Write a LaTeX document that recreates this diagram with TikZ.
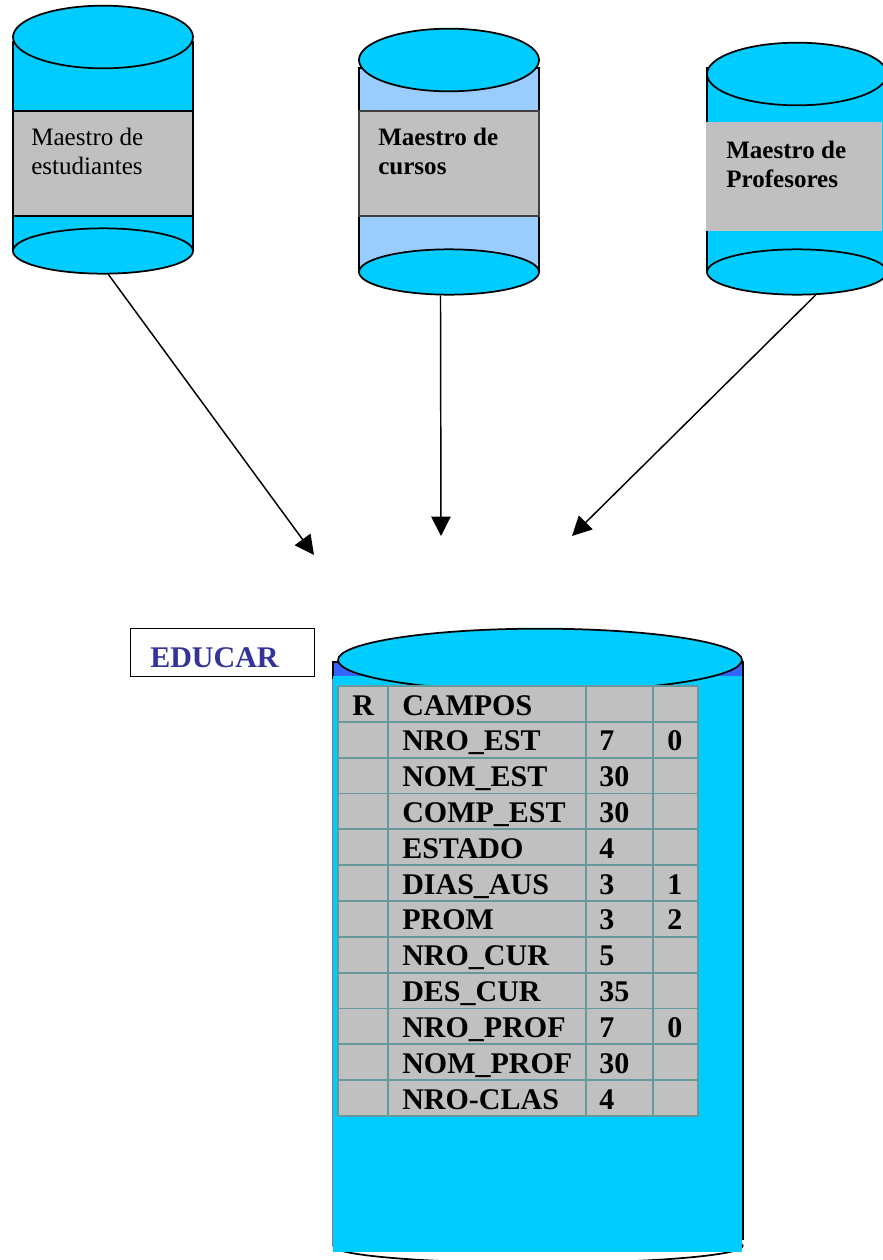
\documentclass[tikz,border=0pt]{standalone}
\usepackage{fontspec}
\setmainfont{Liberation Serif}
\usetikzlibrary{arrows.meta, shapes.geometric}
\definecolor{cian}{HTML}{00CCFF}
\definecolor{celeste}{HTML}{99CCFF}
\definecolor{azul}{HTML}{3366FF}
\definecolor{gris}{HTML}{C0C0C0}
\definecolor{borde}{HTML}{669999}
\definecolor{indigo}{HTML}{333399}
\tikzset{
	tapa/.style = {ellipse, draw = black, fill = cian, line width = 1.3pt, inner sep = 0pt},
	flecha/.style = {-{Triangle[length = 14.5pt, width = 14.5pt]}, line width = 1.1pt},
	rotulo/.style = {anchor = west, align = left, inner sep = 0pt, font = \fontsize{18.8}{21.75}\selectfont},
	celda/.style = {anchor = base west, inner sep = 0pt, font = \fontsize{22.5}{27}\selectfont\bfseries}
}
\begin{document}
\begin{tikzpicture}[x = 0.75pt, y = -0.75pt]
		\useasboundingbox (0, 0) rectangle (882, 1260);
		% estudiantes
			\draw[fill = cian, line width = 1.3pt] (13, 42) rectangle (193, 250);
			\draw[fill = gris, line width = 1.3pt] (13, 111) rectangle (193, 216);
			\node[tapa, minimum width = 135pt, minimum height = 47pt] (estTapa) at (103, 37) {};
			\node[tapa, minimum width = 135pt, minimum height = 34pt] (estBase) at (103, 251) {};
			\node[rotulo] (estRotulo) at (31, 151) {Maestro de\\estudiantes};
		% cursos
			\draw[fill = celeste, line width = 1.3pt] (359, 68) rectangle (539, 272);
			\draw[fill = gris, line width = 1.1pt, draw = black!75] (359, 111) rectangle (539, 216);
			\node[tapa, minimum width = 135pt, minimum height = 47pt] (curTapa) at (449, 60) {};
			\node[tapa, minimum width = 135pt, minimum height = 34pt] (curBase) at (449, 272) {};
			\node[rotulo, font = \fontsize{18.8}{21.75}\selectfont\bfseries] (curRotulo) at (378, 151) {Maestro de\\cursos};
		% profesores
			\draw[fill = cian, line width = 1.3pt] (707, 68) rectangle (900, 272);
			\fill[gris] (706, 122) rectangle (882, 231);
			\node[tapa, minimum width = 135pt, minimum height = 47pt] (proTapa) at (797, 74) {};
			\node[tapa, minimum width = 135pt, minimum height = 34pt] (proBase) at (797, 272) {};
			\node[rotulo, font = \fontsize{18.8}{21.75}\selectfont\bfseries] (proRotulo) at (726, 164) {Maestro de\\Profesores};
		% titulo
		\node[draw = black, line width = 1.2pt, minimum width = 138pt, minimum height = 36pt, inner sep = 0pt] (educar) at (222.5, 652.5) {};
		\node[celda, text = indigo] (educarTexto) at (150, 667) {EDUCAR};
		% cilindro
		\node[draw = black, line width = 1.3pt, ellipse, inner sep = 0pt, minimum width = 307pt, minimum height = 25.5pt] (eduBase) at (538, 1246) {};
		\draw[line width = 1pt, draw = black!50] (333, 662) -- (333, 1246);
		\draw[line width = 1.2pt] (743, 662) -- (743, 1240);
		\draw[fill = azul, line width = 1pt] (333, 662) rectangle (743, 678);
		\fill[cian] (333, 676) rectangle (742, 1252);
		\node[tapa, minimum width = 303pt, minimum height = 47pt] (eduTapa) at (540, 660) {};
		% la tabla
		\fill[gris] (338, 686) rectangle (698, 1116);
		\foreach \col in {338, 388, 586, 653, 698}
			\draw[borde, line width = 1.3pt] (\col, 686) -- (\col, 1116);
		\foreach \fila in {0, ..., 12}
			\draw[borde, line width = 1.3pt] (338, 686 + \fila * 35.83) -- (698, 686 + \fila * 35.83);
		\node[celda] (cabR) at (352, 715) {R};
		\foreach \fila/\campo/\largo/\dec in {
			0/CAMPOS//,
			1/NRO\_EST/7/0,
			2/NOM\_EST/30/,
			3/COMP\_EST/30/,
			4/ESTADO/4/,
			5/DIAS\_AUS/3/1,
			6/PROM/3/2,
			7/NRO\_CUR/5/,
			8/DES\_CUR/35/,
			9/NRO\_PROF/7/0,
			10/NOM\_PROF/30/,
			11/NRO-CLAS/4/} {
			\node[celda] (campo\fila) at (402, 715 + \fila * 35.83) {\campo};
			\node[celda] (largo\fila) at (599, 715 + \fila * 35.83) {\largo};
			\node[celda] (dec\fila) at (667, 715 + \fila * 35.83) {\dec};
		}
		% flechas
		\coordinate (finEst) at (314, 555);
		\coordinate (finCur) at (441, 536);
		\coordinate (finPro) at (572, 536);
		\draw[flecha] (estBase.-77) -- (finEst);
		\draw[flecha] (curBase.-110) -- (finCur);
		\draw[flecha] (proBase.-51) -- (finPro);
	\end{tikzpicture}
\end{document}
